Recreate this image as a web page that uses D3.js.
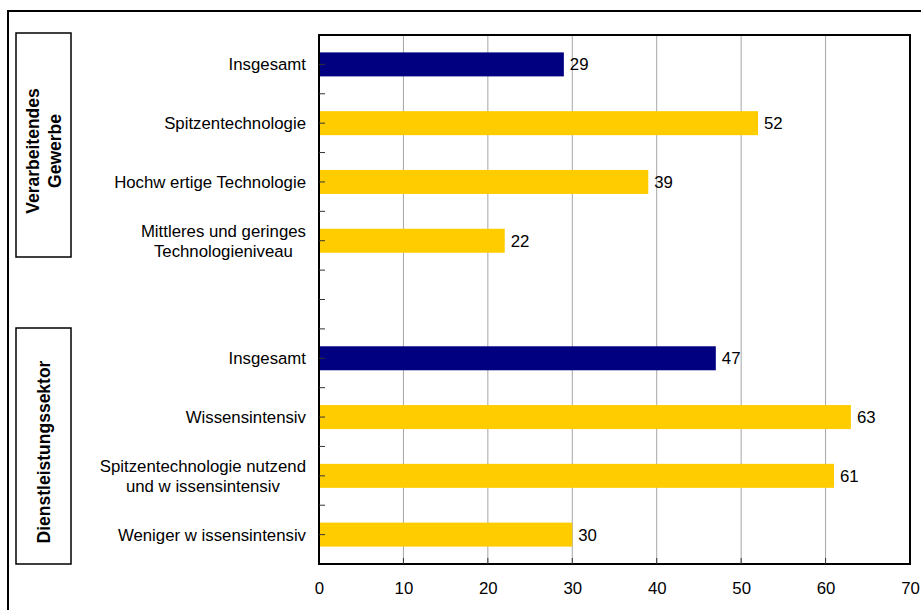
<!DOCTYPE html>
<html>
<head>
<meta charset="utf-8">
<script src="https://cdn.jsdelivr.net/npm/d3@7/dist/d3.min.js"></script>
<style>
  html, body { margin: 0; padding: 0; background: #fff; }
  svg { display: block; font-family: "Liberation Sans", Arial, sans-serif; }
</style>
</head>
<body>
<svg id="chart" width="921" height="610"></svg>
<script>
// Category rows, top to bottom (an empty row separates the two sectors)
const categories = [
  ["Insgesamt"],
  ["Spitzentechnologie"],
  ["Hochw ertige Technologie"],
  ["Mittleres und geringes", "Technologieniveau"],
  [],
  ["Insgesamt"],
  ["Wissensintensiv"],
  ["Spitzentechnologie nutzend", "und w issensintensiv"],
  ["Weniger w issensintensiv"]
];
const values = [29, 52, 39, 22, null, 47, 63, 61, 30];
const isTotal = [true, false, false, false, false, true, false, false, false];
const xTicks = [0, 10, 20, 30, 40, 50, 60, 70];
const sectorLabels = [["Verarbeitendes", "Gewerbe"], ["Dienstleistungssektor"]];

const svg = d3.select("#chart");
const plot = { left: 319, right: 910, top: 35, bottom: 564 };
const colors = { total: "#000080", part: "#FFCC00" };
const fontSize = 16.8;

const x = d3.scaleLinear().domain([0, 70]).range([plot.left, plot.right]);
const y = d3.scaleBand().domain(d3.range(categories.length)).range([plot.top, plot.bottom]);
const barH = 24;

// outer frame
svg.append("path")
  .attr("d", `M8,620 V11 H930`)
  .attr("fill", "none").attr("stroke", "#000").attr("stroke-width", 2);

// vertical gridlines
svg.append("g").selectAll("line").data(xTicks.filter(t => t > 0 && t < 70)).join("line")
  .attr("x1", d => x(d)).attr("x2", d => x(d))
  .attr("y1", plot.top).attr("y2", plot.bottom)
  .attr("stroke", "#a6a6a6").attr("stroke-width", 1);

// bars
const rows = values.map((v, i) => ({ v, i })).filter(d => d.v !== null);
svg.append("g").selectAll("rect").data(rows).join("rect")
  .attr("x", x(0))
  .attr("y", d => y(d.i) + y.bandwidth() / 2 - barH / 2)
  .attr("width", d => x(d.v) - x(0))
  .attr("height", barH)
  .attr("fill", d => isTotal[d.i] ? colors.total : colors.part);

// value labels
svg.append("g").selectAll("text").data(rows).join("text")
  .attr("x", d => x(d.v) + 6)
  .attr("y", d => y(d.i) + y.bandwidth() / 2)
  .attr("dy", "0.36em")
  .attr("font-size", fontSize)
  .attr("fill", "#000")
  .text(d => d.v);

// plot frame
svg.append("rect")
  .attr("x", plot.left).attr("y", plot.top)
  .attr("width", plot.right - plot.left).attr("height", plot.bottom - plot.top)
  .attr("fill", "none").attr("stroke", "#000").attr("stroke-width", 2);

// category axis ticks (boundaries and row centres), drawn inward
const yTickPos = [];
d3.range(1, categories.length).forEach(i => yTickPos.push(y(i)));
d3.range(categories.length).forEach(i => yTickPos.push(y(i) + y.bandwidth() / 2));
svg.append("g").selectAll("line").data(yTickPos).join("line")
  .attr("x1", plot.left).attr("x2", plot.left + 6)
  .attr("y1", d => d).attr("y2", d => d)
  .attr("stroke", "#333").attr("stroke-width", 1);

// value axis
const xAxis = d3.axisBottom(x).tickValues(xTicks).tickSize(0).tickPadding(18);
const gx = svg.append("g").attr("transform", `translate(0,${plot.bottom})`).call(xAxis);
gx.select(".domain").remove();
gx.selectAll("text").attr("font-size", fontSize).attr("fill", "#000")
  .attr("font-family", "Liberation Sans, Arial, sans-serif");
svg.append("g").selectAll("line").data(xTicks.slice(1, -1)).join("line")
  .attr("x1", d => x(d)).attr("x2", d => x(d))
  .attr("y1", plot.bottom - 6).attr("y2", plot.bottom)
  .attr("stroke", "#333").attr("stroke-width", 1);

// category labels, multi-line labels centred as a block right-aligned to the axis
const labelRight = 306;
const lg = svg.append("g");
categories.forEach((lines, i) => {
  if (!lines.length) return;
  const cy = y(i) + y.bandwidth() / 2;
  const t = lg.append("text").attr("font-size", fontSize).attr("fill", "#000");
  const lh = 20;
  lines.forEach((s, k) => {
    t.append("tspan").attr("y", cy + (k - (lines.length - 1) / 2) * lh).attr("dy", "0.36em").text(s);
  });
  const widths = [];
  t.selectAll("tspan").each(function () { widths.push(this.getComputedTextLength()); });
  const maxW = d3.max(widths);
  const mid = labelRight - maxW / 2;
  t.attr("text-anchor", "middle").selectAll("tspan").attr("x", mid);
});

// sector boxes with rotated titles
const boxes = [
  { x: 16, y0: 33, y1: 257, label: sectorLabels[0] },
  { x: 16, y0: 328, y1: 564, label: sectorLabels[1] }
];
boxes.forEach(b => {
  svg.append("rect")
    .attr("x", b.x).attr("y", b.y0).attr("width", 55).attr("height", b.y1 - b.y0)
    .attr("fill", "#fff").attr("stroke", "#000").attr("stroke-width", 1.5);
  const cx = b.x + 27.5, cy = (b.y0 + b.y1) / 2 + 6;
  const t = svg.append("text")
    .attr("transform", `translate(${cx},${cy}) rotate(-90)`)
    .attr("text-anchor", "middle").attr("font-size", 17.5).attr("font-weight", "bold").attr("fill", "#000");
  const lh = 22;
  b.label.forEach((s, k) => {
    t.append("tspan").attr("x", 0).attr("y", (k - (b.label.length - 1) / 2) * lh).attr("dy", "0.36em").text(s);
  });
});
</script>
</body>
</html>
